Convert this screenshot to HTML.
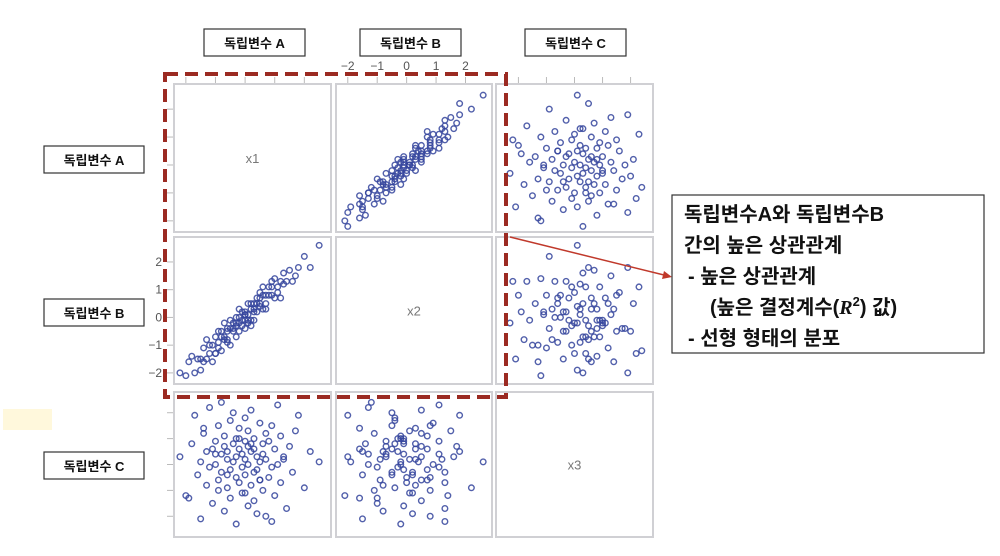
<!DOCTYPE html>
<html><head><meta charset="utf-8">
<style>
body{margin:0;background:#fff;width:1000px;height:556px;overflow:hidden;font-family:"Liberation Sans","Noto Sans CJK KR",sans-serif;}
svg{position:absolute;left:0;top:0}
</style></head>
<body>
<svg id="chart" width="1000" height="556"></svg>
<script>
const varNames=["x1","x2","x3"];
const labelsTop=["독립변수 A","독립변수 B","독립변수 C"];
const ticksAB=[-2,-1,0,1,2];
const x1=[-2.2,-2.0,-1.8,-1.7,-1.6,-1.5,-1.5,-1.4,-1.3,-1.3,-1.2,-1.2,-1.1,-1.1,-1.0,-1.0,-0.9,-0.9,-0.9,-0.8,-0.8,-0.8,-0.7,-0.7,-0.7,-0.6,-0.6,-0.6,-0.5,-0.5,-0.5,-0.4,-0.4,-0.4,-0.3,-0.3,-0.3,-0.3,-0.2,-0.2,-0.2,-0.1,-0.1,-0.1,0.0,0.0,0.0,0.0,0.1,0.1,0.1,0.1,0.2,0.2,0.2,0.3,0.3,0.3,0.3,0.4,0.4,0.4,0.5,0.5,0.5,0.6,0.6,0.6,0.7,0.7,0.7,0.8,0.8,0.9,0.9,1.0,1.0,1.1,1.1,1.2,1.2,1.3,1.4,1.5,1.6,1.8,2.0,2.2,2.5,-1.9,-1.4,-0.6,0.2,0.9,1.3,-0.2,0.5,-1.0,0.0,1.7];
const x2=[-2.0,-2.1,-1.4,-2.0,-1.5,-1.9,-1.5,-1.1,-1.5,-0.8,-1.3,-1.0,-1.6,-1.0,-0.7,-1.3,-0.9,-0.5,-1.1,-0.7,-1.2,-0.5,-0.7,-0.8,-0.2,-0.9,-0.4,-0.8,-0.4,-0.1,-1.0,-0.4,-0.2,-0.5,0.0,-0.7,-0.2,-0.3,-0.5,0.0,0.3,-0.3,-0.1,0.2,-0.1,-0.4,0.2,0.1,-0.1,0.5,-0.2,0.1,0.3,-0.3,0.5,0.2,0.5,0.3,-0.1,0.7,0.5,0.2,0.9,0.4,0.5,0.3,0.8,1.1,0.5,0.8,0.3,1.1,0.8,0.8,1.1,0.7,1.4,1.1,0.9,1.3,0.7,1.6,1.3,1.7,1.3,1.8,2.2,1.8,2.6,-1.6,-1.6,-0.5,-0.1,1.3,1.2,-0.2,0.7,-1.3,0.1,1.5];
const x3=[0.3,-1.2,0.8,1.9,-0.4,0.1,-2.1,1.2,0.5,-0.8,2.2,-0.1,0.6,-1.5,0.9,0.0,-0.6,1.5,-1.0,0.4,2.4,-0.3,0.7,-1.8,1.1,0.2,-0.9,0.5,1.7,-0.2,-1.3,0.8,0.1,2.0,-0.5,0.3,-2.3,1.0,0.6,-0.7,1.4,-0.1,0.4,-1.1,0.9,1.8,-0.4,0.2,-1.6,0.7,0.0,1.3,-0.8,0.5,2.1,-0.3,-1.4,0.6,1.0,-0.2,0.3,-1.9,1.6,0.1,-0.6,0.8,-1.0,0.4,1.2,-2.0,0.2,0.9,-0.5,1.5,-0.1,0.6,-1.2,2.3,0.0,-0.7,1.1,0.3,-1.7,0.7,-0.3,1.9,-0.9,0.5,0.1,-1.3,1.4,-0.4,0.8,-2.2,0.2,1.0,-0.6,0.4,-1.1,1.3];
const series=[x1,x2,x3];
const domains=[[-2.4,2.9],[-2.4,2.9],[-2.8,2.8]];

const NS="http://www.w3.org/2000/svg";
const svg=document.getElementById('chart');
function mk(tag,attrs,parent){const e=document.createElementNS(NS,tag);for(const k in attrs)e.setAttribute(k,attrs[k]);(parent||svg).appendChild(e);return e;}
const colX=[[174,331],[336,492],[496,653]];
const rowY=[[84,232],[237,384],[392,537]];
function sx(c,v){const d=domains[c];return colX[c][0]+(v-d[0])/(d[1]-d[0])*(colX[c][1]-colX[c][0]);}
function sy(r,v){const d=domains[r];return rowY[r][1]-(v-d[0])/(d[1]-d[0])*(rowY[r][1]-rowY[r][0]);}

const y=mk('rect',{x:3,y:409,width:49,height:21,fill:'#fff8dc'});



for(let r=0;r<3;r++)for(let c=0;c<3;c++){
  const g=mk('g',{});
  
  
  mk('rect',{x:colX[c][0],y:rowY[r][0],width:colX[c][1]-colX[c][0],height:rowY[r][1]-rowY[r][0],fill:'#fff',stroke:'#d0d0d4','stroke-width':2},g);
  if(r===c){
    const t=mk('text',{x:(colX[c][0]+colX[c][1])/2,y:(rowY[r][0]+rowY[r][1])/2+5,'text-anchor':'middle','font-size':13,fill:'#777'},g);
    t.textContent=varNames[r];
    
    
  } else {
    const xs=series[c],ys=series[r];
    const n=Math.min(xs.length,ys.length);
    for(let i=0;i<n;i++){
      const p=mk('circle',{cx:sx(c,xs[i]),cy:sy(r,ys[i]),r:2.8,fill:'none',stroke:'#34449c','stroke-width':1.4,'stroke-opacity':0.85},g);
      
      
    }
  }
}
const tg=mk('g',{stroke:'#bbb','stroke-width':1});


for(const v of ticksAB){
  mk('line',{x1:sx(0,v),x2:sx(0,v),y1:77,y2:83},tg);
  mk('line',{x1:sx(1,v),x2:sx(1,v),y1:77,y2:83},tg);
  mk('line',{x1:167,x2:173,y1:sy(0,v),y2:sy(0,v)},tg);
  mk('line',{x1:167,x2:173,y1:sy(1,v),y2:sy(1,v)},tg);
  mk('line',{x1:sx(2,v),x2:sx(2,v),y1:77,y2:83},tg);
  mk('line',{x1:167,x2:173,y1:sy(2,v),y2:sy(2,v)},tg);
  const tx=mk('text',{x:sx(1,v),y:70,'text-anchor':'middle','font-size':12,fill:'#555',stroke:'none'});
  tx.textContent=(v<0?'−':'')+Math.abs(v);
  
  
  const ty=mk('text',{x:162,y:sy(1,v)+4,'text-anchor':'end','font-size':12,fill:'#555',stroke:'none'});
  ty.textContent=(v<0?'−':'')+Math.abs(v);
  
  
}
const db=mk('rect',{x:165,y:74,width:341,height:323,fill:'none',stroke:'#9b2a22','stroke-width':4,'stroke-dasharray':'13,7'});


const tops=[[204,29],[360,29],[525,29]];
const lefts=[[44,146],[44,299],[44,452]];
for(let i=0;i<3;i++){
  const b=mk('rect',{x:tops[i][0],y:tops[i][1],width:101,height:27,fill:'#fff',stroke:'#333','stroke-width':1.2});
  
  
  const t=mk('text',{x:tops[i][0]+50.5,y:tops[i][1]+19,'text-anchor':'middle','font-size':13,'font-weight':'bold',fill:'#111'});
  t.textContent=labelsTop[i];
  
  
  const b2=mk('rect',{x:lefts[i][0],y:lefts[i][1],width:100,height:27,fill:'#fff',stroke:'#333','stroke-width':1.2});
  
  
  const t2=mk('text',{x:lefts[i][0]+50,y:lefts[i][1]+19,'text-anchor':'middle','font-size':13,'font-weight':'bold',fill:'#111'});
  t2.textContent=labelsTop[i];
  
  
}
const ar=mk('g',{});


mk('line',{x1:510,y1:237,x2:664,y2:275,stroke:'#c0392b','stroke-width':1.5},ar);
mk('polygon',{points:'672,277 662,279 664,271',fill:'#c0392b'},ar);
const cb=mk('rect',{x:672,y:195,width:312,height:158,fill:'#fff',stroke:'#333','stroke-width':1.2});


const lines=[[684,221,'독립변수A와 독립변수B'],[684,252,'간의 높은 상관관계'],[688,283,' - 높은 상관관계'],[710,314,'(높은 결정계수(<tspan font-style="italic" font-family="Liberation Serif">R</tspan><tspan font-size="13" dy="-8">2</tspan><tspan dy="8">) 값)</tspan>'],[688,345,' - 선형 형태의 분포']];
lines.forEach((l,i)=>{
  const t=mk('text',{x:l[0],y:l[1],'font-size':20,'font-weight':'bold',fill:'#111'});
  t.innerHTML=l[2];
  
  
});
</script>
</body></html>
